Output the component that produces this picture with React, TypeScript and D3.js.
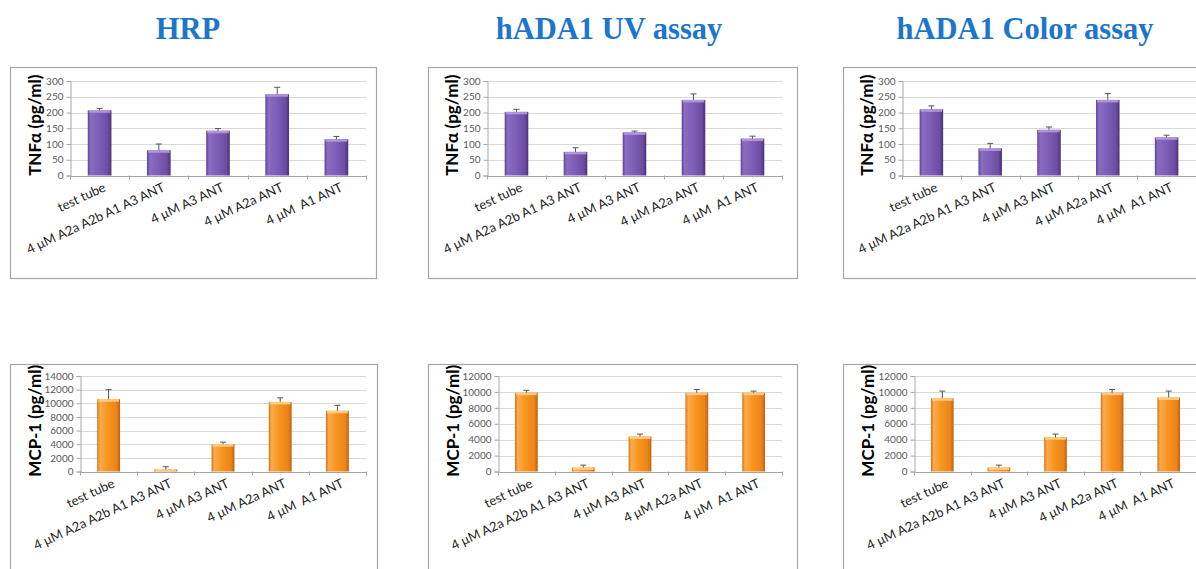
import React, { useEffect, useRef } from 'react';
import * as d3 from 'd3';

// categories shared by all six panels
const categories = [
  'test tube',
  '4 μM A2a A2b A1 A3 ANT',
  '4 μM A3 ANT',
  '4 μM A2a ANT',
  '4 μM  A1 ANT',
];

const assayTitles = ['HRP', 'hADA1 UV assay', 'hADA1 Color assay'];

// TNFα (pg/ml) means and upper error bars
const tnfHrp = [207, 80, 142, 258, 115];
const tnfHrpErr = [6, 20, 7, 22, 9];
const tnfUv = [202, 75, 137, 240, 117];
const tnfUvErr = [8, 13, 4, 19, 8];
const tnfColor = [210, 86, 145, 240, 121];
const tnfColorErr = [11, 16, 9, 20, 7];

// MCP-1 (pg/ml)
const mcpHrp = [10600, 300, 4000, 10200, 8900];
const mcpHrpErr = [1400, 400, 300, 600, 800];
const mcpUv = [9900, 500, 4400, 9900, 9900];
const mcpUvErr = [300, 300, 300, 400, 200];
const mcpColor = [9200, 500, 4300, 9900, 9300];
const mcpColorErr = [900, 300, 400, 400, 800];

const tnfTicks = [0, 50, 100, 150, 200, 250, 300];
const mcpTicks14 = [0, 2000, 4000, 6000, 8000, 10000, 12000, 14000];
const mcpTicks12 = [0, 2000, 4000, 6000, 8000, 10000, 12000];

type Panel = {
  values: number[];
  errors: number[];
  ticks: number[];
  yLabel: string;
  color: 'purple' | 'orange';
  frame: [number, number, number, number];
  plot: { left: number; right: number; top: number; bottom: number };
  titleOffset: number;
};

const panels: Panel[] = [
  { values: tnfHrp, errors: tnfHrpErr, ticks: tnfTicks, yLabel: 'TNFα (pg/ml)', color: 'purple',
    frame: [10, 67, 366, 211], plot: { left: 70, right: 366, top: 81, bottom: 175.5 }, titleOffset: 35 },
  { values: tnfUv, errors: tnfUvErr, ticks: tnfTicks, yLabel: 'TNFα (pg/ml)', color: 'purple',
    frame: [428, 67, 369, 211], plot: { left: 487, right: 782, top: 81, bottom: 175.5 }, titleOffset: 35 },
  { values: tnfColor, errors: tnfColorErr, ticks: tnfTicks, yLabel: 'TNFα (pg/ml)', color: 'purple',
    frame: [843, 67, 400, 211], plot: { left: 902, right: 1196, top: 81, bottom: 175.5 }, titleOffset: 35 },
  { values: mcpHrp, errors: mcpHrpErr, ticks: mcpTicks14, yLabel: 'MCP-1 (pg/ml)', color: 'orange',
    frame: [10, 364, 367, 300], plot: { left: 80, right: 366, top: 376, bottom: 471.5 }, titleOffset: 45 },
  { values: mcpUv, errors: mcpUvErr, ticks: mcpTicks12, yLabel: 'MCP-1 (pg/ml)', color: 'orange',
    frame: [428, 364, 369, 300], plot: { left: 498, right: 782, top: 376, bottom: 471.5 }, titleOffset: 45 },
  { values: mcpColor, errors: mcpColorErr, ticks: mcpTicks12, yLabel: 'MCP-1 (pg/ml)', color: 'orange',
    frame: [843, 364, 400, 300], plot: { left: 914, right: 1197, top: 376, bottom: 471.5 }, titleOffset: 46 },
];

const titleX = [188, 609, 1025];

const drawPanel = (svg: d3.Selection<SVGSVGElement, unknown, null, undefined>, p: Panel) => {
  const [fx, fy, fw, fh] = p.frame;
  svg.append('rect')
    .attr('x', fx + 0.5).attr('y', fy + 0.5)
    .attr('width', fw).attr('height', fh)
    .attr('fill', '#fff').attr('stroke', '#a6a6a6').attr('stroke-width', 1.2);

  const x = d3.scaleBand()
    .domain(categories)
    .range([p.plot.left, p.plot.right])
    .paddingInner(0.6)
    .paddingOuter(0.3);
  const step = x.step();

  const y = d3.scaleLinear()
    .domain([0, p.ticks[p.ticks.length - 1]])
    .range([p.plot.bottom, p.plot.top]);

  const g = svg.append('g');

  // gridlines
  g.selectAll('.grid')
    .data(p.ticks.slice(1))
    .enter()
    .append('line')
    .attr('x1', p.plot.left).attr('x2', p.plot.right)
    .attr('y1', (d) => Math.round(y(d)) + 0.5).attr('y2', (d) => Math.round(y(d)) + 0.5)
    .attr('stroke', '#d9d9d9');

  // y axis
  const yAxis = d3.axisLeft(y).tickValues(p.ticks).tickFormat(d3.format('d')).tickSize(4).tickPadding(3);
  g.append('g')
    .attr('transform', `translate(${Math.round(p.plot.left) + 0.5},0)`)
    .call(yAxis)
    .call((a) => a.select('.domain').attr('stroke', '#a6a6a6'))
    .call((a) => a.selectAll('.tick line').attr('stroke', '#a6a6a6'))
    .call((a) => a.selectAll('.tick text')
      .attr('fill', '#595959')
      .style('font-family', 'Lato, sans-serif')
      .style('font-size', '10px'));

  // x axis line + ticks between categories
  const ax = g.append('g');
  ax.append('line')
    .attr('x1', p.plot.left).attr('x2', p.plot.right)
    .attr('y1', Math.round(p.plot.bottom) + 0.5).attr('y2', Math.round(p.plot.bottom) + 0.5)
    .attr('stroke', '#a6a6a6');
  ax.selectAll('.xt')
    .data(d3.range(categories.length + 1))
    .enter()
    .append('line')
    .attr('x1', (i) => Math.round(p.plot.left + i * step) + 0.5)
    .attr('x2', (i) => Math.round(p.plot.left + i * step) + 0.5)
    .attr('y1', p.plot.bottom).attr('y2', p.plot.bottom + 4)
    .attr('stroke', '#a6a6a6');

  // bars
  const gradId = `grad-${p.color}`;
  const topColor = p.color === 'purple' ? '#b39ae0' : '#fdd08a';
  g.selectAll('.bar')
    .data(p.values)
    .enter()
    .append('rect')
    .attr('x', (_d, i) => x(categories[i])!)
    .attr('y', (d) => y(d))
    .attr('width', x.bandwidth())
    .attr('height', (d) => p.plot.bottom - y(d))
    .attr('fill', `url(#${gradId})`);
  g.selectAll('.bartop')
    .data(p.values)
    .enter()
    .append('rect')
    .attr('x', (_d, i) => x(categories[i])! + 1)
    .attr('y', (d) => y(d))
    .attr('width', x.bandwidth() - 2)
    .attr('height', (d) => Math.min(2.5, p.plot.bottom - y(d)))
    .attr('fill', topColor)
    .attr('opacity', 0.9);

  // error bars (upper only)
  const eb = g.selectAll('.err')
    .data(p.values)
    .enter()
    .append('g');
  eb.append('line')
    .attr('x1', (_d, i) => x(categories[i])! + x.bandwidth() / 2)
    .attr('x2', (_d, i) => x(categories[i])! + x.bandwidth() / 2)
    .attr('y1', (d) => y(d))
    .attr('y2', (d, i) => y(d + p.errors[i]))
    .attr('stroke', '#555').attr('stroke-width', 1);
  eb.append('line')
    .attr('x1', (_d, i) => x(categories[i])! + x.bandwidth() / 2 - 3)
    .attr('x2', (_d, i) => x(categories[i])! + x.bandwidth() / 2 + 3)
    .attr('y1', (d, i) => y(d + p.errors[i]))
    .attr('y2', (d, i) => y(d + p.errors[i]))
    .attr('stroke', '#555').attr('stroke-width', 1);

  // category labels, rotated
  g.selectAll('.cat')
    .data(categories)
    .enter()
    .append('text')
    .attr('transform', (d) => `translate(${x(d)! + x.bandwidth() / 2 + 7},${p.plot.bottom + 15}) rotate(-25)`)
    .attr('text-anchor', 'end')
    .attr('fill', '#262626')
    .style('font-family', 'Lato, sans-serif')
    .style('font-size', '13px')
    .style('white-space', 'pre')
    .text((d) => d);

  // y axis title
  svg.append('text')
    .attr('transform', `translate(${p.plot.left - p.titleOffset},${(p.plot.top + p.plot.bottom) / 2 - 3}) rotate(-90)`)
    .attr('text-anchor', 'middle')
    .attr('dy', '0.35em')
    .attr('fill', '#000')
    .style('font-family', 'Lato, sans-serif')
    .style('font-weight', 'bold')
    .style('font-size', '17px')
    .text(p.yLabel);
};

const App: React.FC = () => {
  const ref = useRef<SVGSVGElement>(null);

  useEffect(() => {
    if (!ref.current) return;
    const svg = d3.select(ref.current);
    svg.selectAll('*').remove();

    const defs = svg.append('defs');
    const gradients: Record<string, [string, string][]> = {
      purple: [['0%', '#5e4190'], ['12%', '#8a6cc2'], ['45%', '#7f5fb8'], ['85%', '#6c4da2'], ['100%', '#4c3277']],
      orange: [['0%', '#d9700f'], ['12%', '#fbab4e'], ['45%', '#f7951f'], ['85%', '#ec8419'], ['100%', '#c0600c']],
    };
    Object.entries(gradients).forEach(([name, stops]) => {
      const lg = defs.append('linearGradient')
        .attr('id', `grad-${name}`)
        .attr('x1', '0%').attr('x2', '100%').attr('y1', '0%').attr('y2', '0%');
      stops.forEach(([o, c]) => lg.append('stop').attr('offset', o).attr('stop-color', c));
    });

    svg.append('rect').attr('width', 1196).attr('height', 569).attr('fill', '#fff');

    panels.forEach((p) => drawPanel(svg, p));

    svg.selectAll('.assay')
      .data(assayTitles)
      .enter()
      .append('text')
      .attr('x', (_d, i) => titleX[i])
      .attr('y', 39)
      .attr('text-anchor', 'middle')
      .attr('fill', '#1b76cc')
      .style('font-family', '"Liberation Serif", "Times New Roman", serif')
      .style('font-weight', 'bold')
      .style('font-size', '30.5px')
      .text((d) => d);
  }, []);

  return (
    <svg
      ref={ref}
      width={1196}
      height={569}
      style={{ position: 'absolute', left: 0, top: 0 }}
    />
  );
};

export default App;
